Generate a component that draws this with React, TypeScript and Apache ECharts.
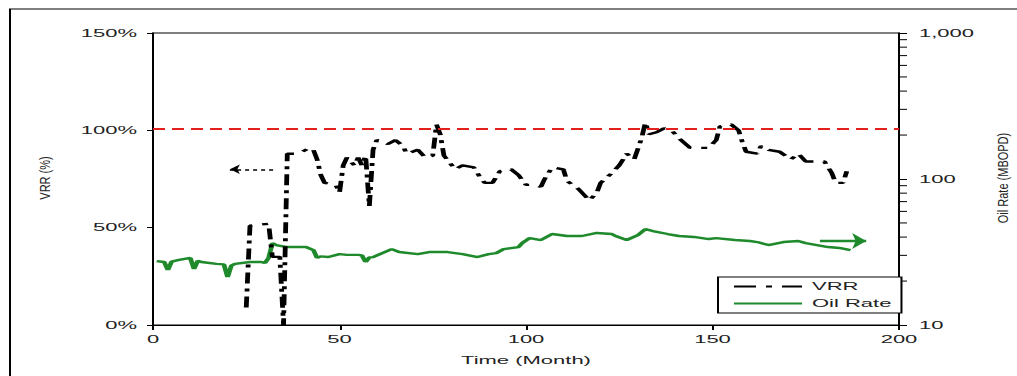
import React, { useEffect, useRef } from "react";
import * as echarts from "echarts";

// The figure is laid out on a half-width canvas and stretched 2x horizontally.
const STRETCH = 2;
const PAGE_W = 1017;
const PAGE_H = 376;
const INNER_W = PAGE_W / STRETCH;

const FONT = "'Liberation Sans', Arial, sans-serif";
const TEXT = "#222";

// Time axis ticks (months)
const timeTicks = [0, 50, 100, 150, 200];

// Voidage replacement ratio, % by month
const vrrMonth = [
  25, 26, 31, 32, 34, 35, 36, 38, 40, 42, 43, 44, 45, 46, 49, 50, 51, 52, 54, 55,
  56, 57, 58, 59, 60, 63, 65, 67, 68, 71, 73, 75, 76, 77, 78, 81, 83, 86, 88, 89,
  91, 93, 96, 98, 100, 102, 104, 105, 107, 110, 111, 114, 117, 119, 120, 123, 125, 127, 129, 131,
  132, 133, 135, 137, 139, 141, 144, 147, 149, 151, 152, 155, 157, 158, 159, 162, 163, 165, 168, 171,
  173, 175, 178, 180, 182, 183, 185, 186,
];
const vrrPct = [
  9, 51, 52, 35, 35, 0, 88, 88, 89, 91, 90, 85, 77, 73, 72, 68, 82, 86, 82, 86,
  82, 87, 61, 90, 95, 93, 95, 92, 88, 90, 86, 87, 103, 98, 87, 80, 82, 81, 75, 73,
  73, 79, 80, 77, 72, 72, 71, 75, 81, 80, 74, 70, 64, 68, 73, 78, 82, 88, 85, 96,
  104, 98, 99, 101, 100, 96, 91, 91, 91, 95, 102, 103, 100, 94, 89, 88, 92, 90, 89, 85,
  88, 84, 84, 84, 78, 73, 73, 79,
];

// Oil rate, MBOPD by month
const oilMonth = [
  1, 3, 4, 5, 7, 10, 11, 12, 13, 17, 19, 20, 21, 22, 26, 29, 30, 31, 32, 33,
  36, 41, 43, 44, 45, 47, 50, 52, 55, 56, 57, 58, 59, 64, 66, 71, 74, 79, 83, 87,
  90, 92, 94, 98, 99, 101, 104, 107, 111, 115, 119, 123, 124, 127, 130, 132, 134, 138, 141, 145,
  149, 151, 156, 160, 162, 165, 169, 173, 175, 178, 181, 184, 187,
];
const oilRate = [
  27.4, 27.0, 23.8, 27.2, 27.9, 28.8, 24.2, 27.5, 27.0, 26.2, 26.0, 21.3, 25.5, 26.2, 27.0, 27.0, 26.6, 28.8, 36.4, 35.3,
  34.2, 34.2, 32.6, 28.8, 29.5, 29.2, 30.6, 30.2, 30.2, 30.0, 27.0, 29.0, 29.2, 33.1, 31.6, 30.6, 31.6, 31.6, 30.6, 29.2,
  30.6, 31.1, 33.1, 34.2, 36.4, 39.4, 38.2, 42.0, 40.7, 40.7, 42.7, 42.0, 40.7, 38.2, 41.3, 45.4, 44.0, 42.0, 40.7, 40.1,
  38.8, 39.4, 38.2, 37.6, 37.0, 35.3, 37.0, 37.6, 36.4, 35.3, 34.2, 33.7, 32.6,
];

// Reference level for VRR and the two pointer arrows (axis units)
const vrrTarget = 101;
const vrrPointer = { fromMonth: 32.2, toMonth: 20.6, pct: 80 };
const oilPointer = { fromMonth: 178.8, toMonth: 191.2, rate: 37.6 };

// Log-axis minor ticks
const oilMinorTicks = [20, 30, 40, 50, 60, 70, 80, 90, 200, 300, 400, 500, 600, 700, 800, 900];

const zip = (xs: number[], ys: number[]) => xs.map((x, i) => [x, ys[i]]);

const withThousands = (v: number) => String(v).replace(/\B(?=(\d{3})+(?!\d))/g, ",");

export default function App() {
  const ref = useRef<HTMLDivElement>(null);

  useEffect(() => {
    if (!ref.current) return;
    const chart = echarts.init(ref.current, null, {
      renderer: "svg",
      width: INNER_W,
      height: PAGE_H,
    });

    const option: any = {
      animation: false,
      backgroundColor: "#fff",
      textStyle: { fontFamily: FONT },
      grid: {
        left: 76.5,
        right: 59,
        top: 33,
        bottom: 51,
        show: true,
        borderColor: "#000",
        borderWidth: 1,
      },
      legend: {
        data: ["VRR", "Oil Rate"],
        orient: "vertical",
        left: 359,
        top: 277,
        itemWidth: 34,
        itemHeight: 12,
        itemGap: 6,
        padding: [4, 5, 4, 7],
        borderColor: "#000",
        borderWidth: 1,
        borderRadius: 0,
        backgroundColor: "#fff",
        // line-only samples: hide the marker drawn on top of each sample line
        itemStyle: { color: "transparent", borderWidth: 0, opacity: 0 },
        textStyle: { fontFamily: FONT, fontSize: 11, color: TEXT },
      },
      xAxis: {
        type: "value",
        min: timeTicks[0],
        max: timeTicks[timeTicks.length - 1],
        interval: timeTicks[1] - timeTicks[0],
        name: "Time (Month)",
        nameLocation: "middle",
        nameGap: 30,
        nameTextStyle: { fontFamily: FONT, fontSize: 11, color: TEXT },
        axisLine: { show: true, lineStyle: { color: "#000", width: 1 } },
        axisTick: { show: true, length: 5, lineStyle: { color: "#000" } },
        axisLabel: { fontFamily: FONT, fontSize: 11, color: TEXT, margin: 9 },
        splitLine: { show: false },
      },
      yAxis: [
        {
          type: "value",
          position: "left",
          min: 0,
          max: 150,
          interval: 50,
          axisLine: { show: true, lineStyle: { color: "#000", width: 1 } },
          axisTick: { show: true, length: 3, lineStyle: { color: "#000" } },
          axisLabel: { fontFamily: FONT, fontSize: 11, color: TEXT, margin: 8, formatter: "{value}%" },
          splitLine: { show: false },
        },
        {
          type: "log",
          logBase: 10,
          position: "right",
          min: 10,
          max: 1000,
          axisLine: { show: true, lineStyle: { color: "#000", width: 1 } },
          axisTick: { show: true, length: 4, lineStyle: { color: "#000" } },
          axisLabel: {
            fontFamily: FONT,
            fontSize: 11,
            color: TEXT,
            margin: 10,
            formatter: (v: number) => withThousands(v),
          },
          splitLine: { show: false },
        },
      ],
      series: [
        {
          name: "VRR",
          type: "line",
          yAxisIndex: 0,
          data: zip(vrrMonth, vrrPct),
          symbol: "none",
          showSymbol: false,
          color: "#000",
          lineStyle: { color: "#000", width: 2.4, type: [11, 5, 3, 5] },
          z: 3,
          markLine: {
            silent: true,
            symbol: ["none", "none"],
            label: { show: false },
            data: [
              {
                yAxis: vrrTarget,
                lineStyle: { color: "#e3201b", width: 2, type: [6, 3.5] },
              },
              [
                {
                  coord: [vrrPointer.fromMonth, vrrPointer.pct],
                  symbol: "none",
                  lineStyle: { color: "#000", width: 1.6, type: [2, 2] },
                },
                {
                  coord: [vrrPointer.toMonth, vrrPointer.pct],
                  symbol: "arrow",
                  symbolSize: [7, 5],
                },
              ],
            ],
          },
        },
        {
          name: "Oil Rate",
          type: "line",
          yAxisIndex: 1,
          data: zip(oilMonth, oilRate),
          symbol: "none",
          showSymbol: false,
          color: "#1f8a2c",
          lineStyle: { color: "#1f8a2c", width: 2.4 },
          z: 2,
          markLine: {
            silent: true,
            symbol: ["none", "none"],
            label: { show: false },
            data: [
              [
                {
                  coord: [oilPointer.fromMonth, oilPointer.rate],
                  symbol: "none",
                  lineStyle: { color: "#1f8a2c", width: 2.4, type: "solid" },
                },
                {
                  coord: [oilPointer.toMonth, oilPointer.rate],
                  symbol: "arrow",
                  symbolSize: [12, 7],
                },
              ],
            ],
          },
        },
      ],
    };

    chart.setOption(option);

    // Minor ticks of the log axis, placed through the axis' own scale
    const xRight = chart.convertToPixel({ xAxisIndex: 0 }, timeTicks[timeTicks.length - 1]) as number;
    const minorLines = oilMinorTicks.map((v, i) => {
      const y = chart.convertToPixel({ yAxisIndex: 1 }, v) as number;
      return {
        type: "line",
        id: "minor" + i,
        silent: true,
        shape: { x1: xRight, y1: y, x2: xRight + 4, y2: y },
        style: { stroke: "#000", lineWidth: 1 },
      };
    });

    chart.setOption({
      graphic: [
        {
          type: "rect",
          id: "frame",
          silent: true,
          shape: { x: 5, y: 9, width: 700, height: 700 },
          style: { fill: "none", stroke: "#000", lineWidth: 1 },
          z: 0,
        },
        {
          type: "text",
          id: "vrrName",
          silent: true,
          x: 22.5,
          y: 178,
          rotation: Math.PI / 2,
          scaleY: 0.65,
          style: {
            text: "VRR (%)",
            fontFamily: FONT,
            fontSize: 11,
            fill: TEXT,
            align: "center",
            verticalAlign: "middle",
          },
        },
        {
          type: "text",
          id: "oilName",
          silent: true,
          x: 501.5,
          y: 178,
          rotation: Math.PI / 2,
          scaleY: 0.65,
          style: {
            text: "Oil Rate (MBOPD)",
            fontFamily: FONT,
            fontSize: 11,
            fill: TEXT,
            align: "center",
            verticalAlign: "middle",
          },
        },
        ...minorLines,
      ],
    });

    return () => chart.dispose();
  }, []);

  return (
    <div
      style={{
        position: "absolute",
        left: 0,
        top: 0,
        width: PAGE_W,
        height: PAGE_H,
        overflow: "hidden",
        background: "#fff",
      }}
    >
      <div
        ref={ref}
        style={{
          width: INNER_W,
          height: PAGE_H,
          transform: `scaleX(${STRETCH})`,
          transformOrigin: "0 0",
        }}
      />
    </div>
  );
}
